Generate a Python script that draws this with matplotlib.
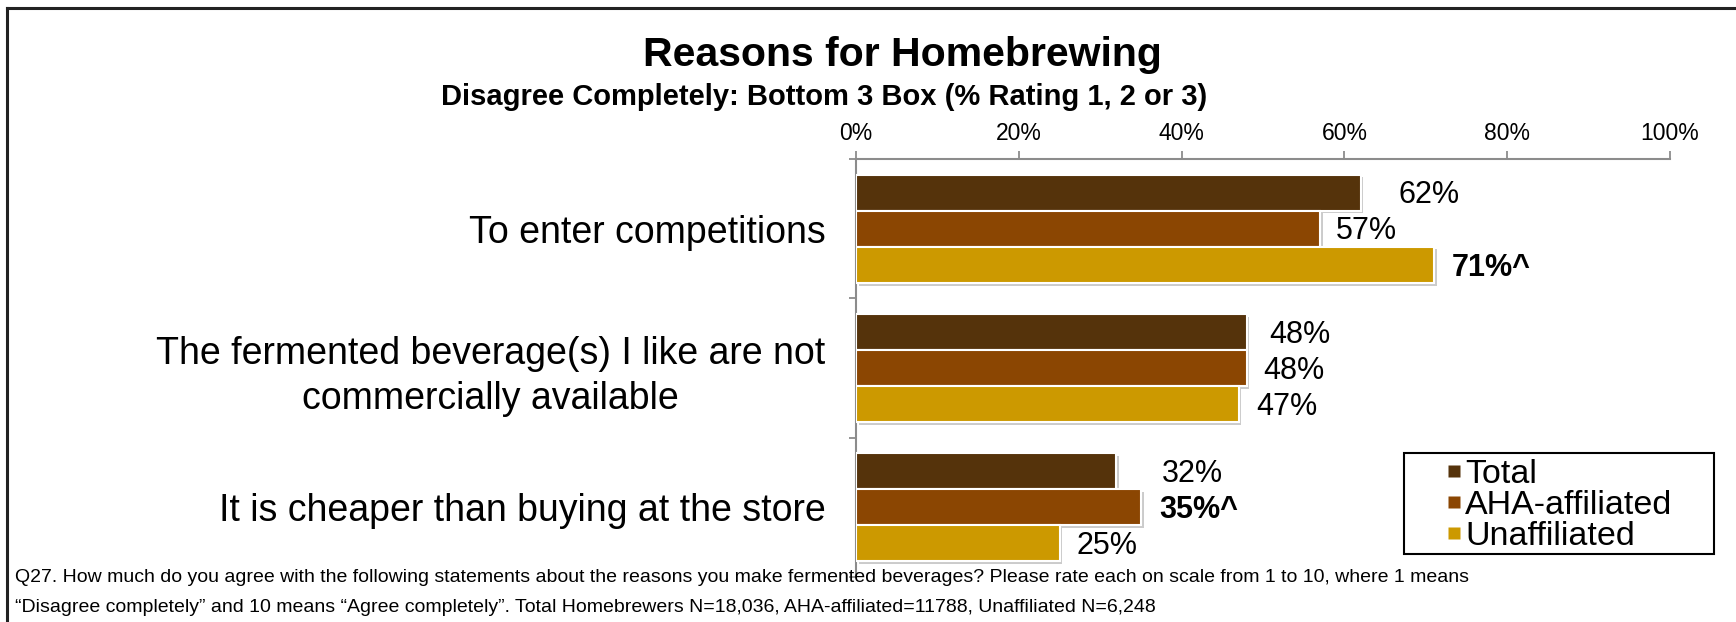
import matplotlib
matplotlib.use("Agg")
import matplotlib.pyplot as plt
import matplotlib.patheffects as pe
from matplotlib.lines import Line2D
from matplotlib.patches import Rectangle
import numpy as np

plt.rcParams['font.family'] = ['Liberation Sans', 'DejaVu Sans']

# ---- data ----
categories = [
    "To enter competitions",
    "The fermented beverage(s) I like are not\ncommercially available",
    "It is cheaper than buying at the store",
]
series_names = ["Total", "AHA-affiliated", "Unaffiliated"]
total_vals = [62, 48, 32]
aha_vals = [57, 48, 35]
unaff_vals = [71, 47, 25]
# significance flags (shown bold with ^)
total_sig = [False, False, False]
aha_sig = [False, False, True]
unaff_sig = [True, False, False]
xticks = [0, 20, 40, 60, 80, 100]

title = "Reasons for Homebrewing"
subtitle = "Disagree Completely: Bottom 3 Box (% Rating 1, 2 or 3)"
footnote_1 = ("Q27. How much do you agree with the following statements about the reasons you make "
              "fermented beverages? Please rate each on scale from 1 to 10, where 1 means")
footnote_2 = ("\u201cDisagree completely\u201d and 10 means \u201cAgree completely\u201d. Total Homebrewers "
              "N=18,036, AHA-affiliated=11788, Unaffiliated N=6,248")

# ---- styling ----
colors = ["#55330B", "#8B4602", "#CC9900"]
label_gap_px = [[38, 23, 45], [16, 17, 18], [18, 18, 17]]

W, H = 1736, 622
fig = plt.figure(figsize=(W / 100, H / 100), dpi=100)
fig.patch.set_facecolor("white")


def fx(px):
    return px / W


def fy(py):
    return 1 - py / H


ax = fig.add_axes([fx(856), fy(577), (1670 - 856) / W, (577 - 159) / H])

bar_h = 0.259
y = np.arange(len(categories))
series = [(total_vals, total_sig), (aha_vals, aha_sig), (unaff_vals, unaff_sig)]
shadow = [pe.SimplePatchShadow(offset=(2, -2), shadow_rgbFace=(0.55, 0.55, 0.55), alpha=0.45),
          pe.Normal()]

for k, ((vals, sig), col) in enumerate(zip(series, colors)):
    pos = y + (k - 1) * bar_h
    ax.barh(pos, vals, height=bar_h, color=col, edgecolor="white",
            linewidth=1.5, path_effects=shadow, zorder=3)
    for j, (v, s) in enumerate(zip(vals, sig)):
        txt = f"{v}%^" if s else f"{v}%"
        ax.annotate(txt, xy=(v, pos[j]), xytext=(label_gap_px[k][j] * 0.72, -2),
                    textcoords="offset points", ha="left", va="center",
                    fontsize=22, fontweight="bold" if s else "normal",
                    color="black", zorder=4)

ax.set_xlim(0, 100)
ax.set_ylim(len(categories) - 0.5, -0.5)

# axes: top and left spines only
for side in ("right", "bottom"):
    ax.spines[side].set_visible(False)
for side in ("top", "left"):
    ax.spines[side].set_color("#8c8c8c")
    ax.spines[side].set_linewidth(1.5)

ax.xaxis.tick_top()
ax.set_xticks(xticks)
ax.set_xticklabels([f"{t}%" for t in xticks])
ax.tick_params(axis="x", which="major", direction="out", length=6, width=1.3,
               color="#8c8c8c", labelsize=16.5, pad=4)

ax.set_yticks(y)
ax.set_yticklabels(categories)
ax.tick_params(axis="y", which="major", length=0, labelsize=27, pad=22)
for lbl in ax.get_yticklabels():
    lbl.set_multialignment("center")
    lbl.set_linespacing(1.32)
ax.set_yticks(np.arange(len(categories) + 1) - 0.5, minor=True)
ax.tick_params(axis="y", which="minor", direction="out", length=5, width=1.3,
               color="#8c8c8c")

# titles
fig.text(fx(902), fy(55), title, ha="center", va="center",
         fontsize=29.5, fontweight="bold")
fig.text(fx(824), fy(97), subtitle, ha="center", va="center",
         fontsize=21, fontweight="bold")

# footnote
fig.text(fx(15), fy(578), footnote_1, ha="left", va="center", fontsize=14)
fig.text(fx(15), fy(607), footnote_2, ha="left", va="center", fontsize=14)

# legend with a square-cornered black box
handles = [Line2D([], [], marker="s", linestyle="none", markersize=8.5,
                  markerfacecolor=c, markeredgecolor="none") for c in colors]
fig.legend(handles, series_names, loc="upper left",
           bbox_to_anchor=(fx(1445), fy(459)), frameon=False, fontsize=24.5,
           handletextpad=0.05, handlelength=0.55, labelspacing=0.0,
           borderpad=0, borderaxespad=0)
fig.add_artist(Rectangle((fx(1404), fy(554)), (1714 - 1404) / W, (554 - 453) / H,
                         transform=fig.transFigure, fill=False,
                         edgecolor="black", linewidth=1.5, zorder=5))

# panel frame
fig.add_artist(Line2D([fx(7), fx(7)], [fy(8), 0], color="#222222", lw=2.2))
fig.add_artist(Line2D([fx(7), 1], [fy(8), fy(8)], color="#222222", lw=2.2))

fig.savefig("out.png", dpi=100, facecolor="white")
